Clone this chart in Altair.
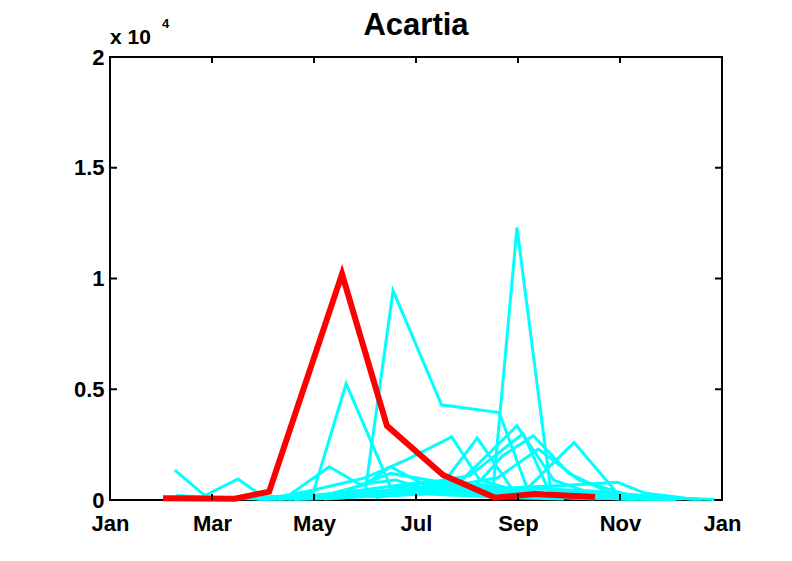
import altair as alt
import pandas as pd

# ---- data (months from 1 Jan, counts) ----
tick_months = [0, 2, 4, 6, 8, 10, 12]
tick_labels = ["Jan", "Mar", "May", "Jul", "Sep", "Nov", "Jan"]
y_ticks = [0, 5000, 10000, 15000, 20000]

red_months = [1.04, 2.45, 3.12, 4.55, 5.43, 6.53, 7.55, 8.33, 9.51]
red_values = [80, 60, 380, 10200, 3350, 1130, 100, 270, 140]

cyan_months = [
    [1.27, 1.86, 2.51, 3.0, 3.9, 4.9, 5.9, 6.9, 7.9, 8.9],
    [1.2, 2.1, 3.0, 3.98, 4.63, 5.5, 6.5, 7.5, 8.5, 9.5],
    [3.2, 4.2, 5.0, 5.55, 6.5, 7.63, 8.2, 9.1, 10.1],
    [2.9, 3.9, 4.9, 5.9, 6.9, 7.5, 7.98, 8.65, 9.6, 10.6],
    [3.1, 4.0, 5.0, 5.8, 6.7, 7.25, 8.0, 9.0, 10.0],
    [3.4, 4.3, 4.9, 5.6, 6.4, 7.2, 7.9, 8.9, 10.2],
    [3.9, 4.9, 5.9, 6.9, 7.98, 8.7, 9.5, 10.5],
    [4.0, 5.0, 6.0, 7.05, 8.1, 8.6, 9.3, 10.3],
    [4.4, 5.4, 6.4, 7.4, 8.15, 9.1, 9.95, 10.8, 11.6],
    [4.9, 5.9, 6.9, 7.9, 8.9, 9.95, 10.5, 11.3, 11.85],
    [4.0, 5.0, 5.5, 6.2, 6.7, 7.5, 8.5, 9.5],
    [3.0, 4.1, 5.1, 6.1, 7.0, 8.0, 9.0, 10.0, 11.0],
    [3.3, 4.4, 5.3, 6.3, 7.3, 8.3, 9.3, 10.3],
    [3.6, 4.6, 5.6, 6.6, 7.6, 8.4, 9.2, 10.2, 11.2],
    [4.2, 5.2, 6.2, 7.1, 7.7, 8.3, 9.0, 10.0],
    [1.3, 2.2, 3.1, 4.1, 5.1, 6.1, 7.1, 8.1, 9.1, 10.1, 11.1],
    [4.5, 5.5, 6.5, 7.5, 8.5, 9.5, 10.4, 11.5],
    [5.2, 6.2, 7.2, 8.2, 9.2, 10.2, 11.0],
    [3.5, 4.5, 5.5, 6.5, 7.5, 8.5, 9.5],
    [6.0, 6.8, 7.6, 8.4, 9.2, 10.0, 10.8],
]
cyan_values = [
    [1350, 200, 950, 150, 200, 400, 300, 200, 100, 50],
    [150, 80, 50, 300, 5250, 600, 450, 300, 200, 80],
    [50, 150, 300, 9450, 4300, 3950, 400, 150, 60],
    [30, 100, 250, 500, 300, 200, 12300, 300, 150, 50],
    [50, 450, 1000, 1800, 2850, 900, 400, 200, 80],
    [40, 1500, 700, 900, 350, 2800, 450, 150, 40],
    [100, 300, 500, 900, 3350, 900, 250, 60],
    [80, 250, 700, 1100, 3000, 450, 200, 40],
    [120, 350, 450, 250, 450, 2600, 300, 100, 30],
    [150, 250, 450, 550, 650, 800, 300, 80, 20],
    [80, 700, 1500, 650, 1000, 350, 150, 50],
    [20, 200, 500, 800, 600, 300, 250, 100, 30],
    [30, 150, 400, 350, 700, 200, 100, 30],
    [20, 100, 350, 600, 1000, 2300, 900, 200, 40],
    [50, 200, 600, 450, 2000, 2900, 1200, 100],
    [200, 100, 50, 80, 200, 300, 250, 150, 100, 60, 20],
    [100, 200, 300, 400, 500, 400, 200, 30],
    [100, 500, 300, 250, 150, 50, 10],
    [30, 300, 1200, 800, 500, 200, 100],
    [200, 900, 300, 600, 350, 150, 50],
]

# ---- tables ----
rows = []
for i, (ms, vs) in enumerate(zip(cyan_months, cyan_values)):
    for k, (m, v) in enumerate(zip(ms, vs)):
        rows.append({"series": i, "order": k, "month": m, "value": v})
cyan_df = pd.DataFrame(rows)
red_df = pd.DataFrame({"month": red_months, "value": red_values, "order": range(len(red_months))})
xt_df = pd.DataFrame({"month": tick_months})
yt_df = pd.DataFrame({"value": y_ticks})

W, H = 612, 443
FONT = "Liberation Sans"
label_js = "[" + ",".join("'%s'" % s for s in tick_labels) + "]"

xscale = alt.Scale(domain=[0, 12], nice=False, zero=False)
yscale = alt.Scale(domain=[0, 20000], nice=False)

xaxis = alt.Axis(values=tick_months, labelExpr=label_js + "[datum.value/2]",
                 ticks=False, tickSize=0, domain=False, grid=False, title=None,
                 labelFont=FONT, labelFontSize=22, labelFontWeight="bold", labelColor="black",
                 labelPadding=13, labelFlush=False, labelOverlap=False)
yaxis = alt.Axis(values=y_ticks, labelExpr="datum.value/10000",
                 ticks=False, tickSize=0, domain=False, grid=False, title=None,
                 labelFont=FONT, labelFontSize=22, labelFontWeight="bold", labelColor="black",
                 labelPadding=6, labelFlush=False, labelOverlap=False)

cyan = alt.Chart(cyan_df).mark_line(color="#00FFFF", strokeWidth=3, clip=False).encode(
    x=alt.X("month:Q", scale=xscale, axis=xaxis),
    y=alt.Y("value:Q", scale=yscale, axis=yaxis),
    detail="series:N",
    order="order:Q",
)

red = alt.Chart(red_df).mark_line(color="#FF0000", strokeWidth=6).encode(
    x=alt.X("month:Q", scale=xscale),
    y=alt.Y("value:Q", scale=yscale),
    order="order:Q",
)

tick_bottom = alt.Chart(xt_df).mark_rule(color="black", strokeWidth=2).encode(
    x=alt.X("month:Q", scale=xscale), y=alt.value(H), y2=alt.value(H - 6))
tick_top = alt.Chart(xt_df).mark_rule(color="black", strokeWidth=2).encode(
    x=alt.X("month:Q", scale=xscale), y=alt.value(0), y2=alt.value(6))
tick_left = alt.Chart(yt_df).mark_rule(color="black", strokeWidth=2).encode(
    y=alt.Y("value:Q", scale=yscale), x=alt.value(0), x2=alt.value(7))
tick_right = alt.Chart(yt_df).mark_rule(color="black", strokeWidth=2).encode(
    y=alt.Y("value:Q", scale=yscale), x=alt.value(W), x2=alt.value(W - 7))

ann_df = pd.DataFrame({"a": [0]})
exp_main = alt.Chart(ann_df).mark_text(
    text="x 10", font=FONT, fontSize=21, fontWeight="bold", align="left",
    baseline="alphabetic", color="black").encode(x=alt.value(0), y=alt.value(-13))
exp_sup = alt.Chart(ann_df).mark_text(
    text="4", font=FONT, fontSize=13, fontWeight="bold", align="left",
    baseline="alphabetic", color="black").encode(x=alt.value(52), y=alt.value(-29))

chart = alt.layer(cyan, red, tick_bottom, tick_top, tick_left, tick_right, exp_main, exp_sup).properties(
    width=W, height=H,
    title=alt.TitleParams("Acartia", font=FONT, fontSize=31, fontWeight="bold", color="black",
                          anchor="middle", offset=20, dy=44),
    padding={"left": 102, "top": 49, "right": 40, "bottom": 40},
    autosize=alt.AutoSizeParams(type="none"),
    background="white",
).configure_view(stroke="black", strokeWidth=2)

chart.save("out.html", embed_options={"renderer": "svg", "actions": False})
